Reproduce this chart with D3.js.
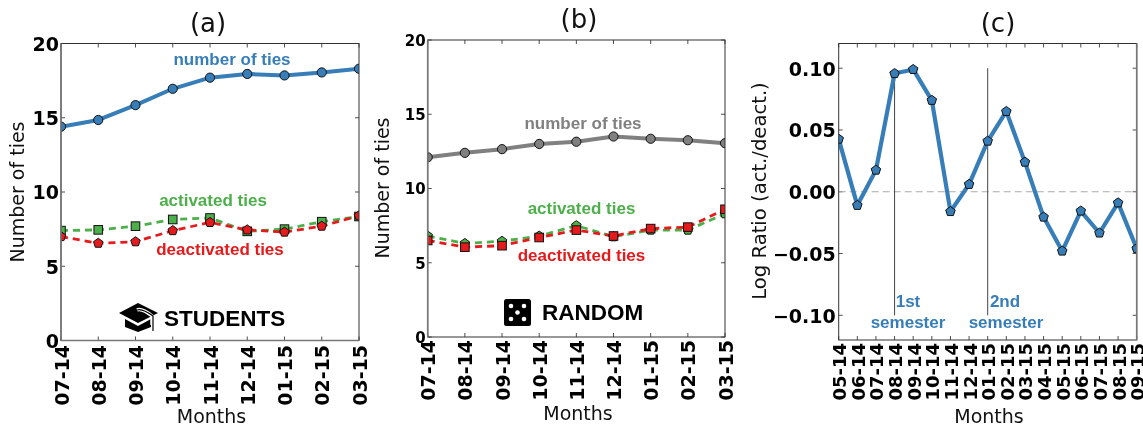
<!DOCTYPE html>
<html><head><meta charset="utf-8">
<script src="https://cdn.jsdelivr.net/npm/d3@7"></script>
<style>html,body{margin:0;padding:0;background:#fff}svg{display:block;filter:blur(0.35px)}</style>
</head><body><svg id="c" width="1143" height="428" font-family="DejaVu Sans"></svg>
<script>
const monthsAB=["07-14","08-14","09-14","10-14","11-14","12-14","01-15","02-15","03-15"];
const monthsC=["05-14","06-14","07-14","08-14","09-14","10-14","11-14","12-14","01-15","02-15","03-15","04-15","05-15","06-15","07-15","08-15","09-15"];
const aTies=[14.4,14.85,15.85,16.95,17.7,17.95,17.85,18.05,18.3];
const aActivated=[7.4,7.45,7.7,8.15,8.25,7.35,7.5,8.0,8.35];
const aDeactivated=[7.0,6.55,6.65,7.4,7.95,7.45,7.3,7.7,8.4];
const bTies=[12.1,12.4,12.65,13.0,13.15,13.5,13.35,13.25,13.05];
const bActivated=[6.8,6.3,6.45,6.8,7.5,6.75,7.2,7.2,8.3];
const bDeactivated=[6.5,6.05,6.15,6.7,7.2,6.8,7.3,7.4,8.6];
const logRatio=[0.0426,-0.011,0.0175,0.0957,0.099,0.074,-0.016,0.006,0.041,0.065,0.024,-0.0205,-0.048,-0.0156,-0.0334,-0.009,-0.046];
const yTicksAB=[0,5,10,15,20];
const yTicksC=[-0.10,-0.05,0,0.05,0.10];
const semesters=[{m:"08-14",top:0.0957},{m:"01-15",top:0.10}];
const BLUE="#377eb8",GREEN="#4daf4a",RED="#e41a1c",GRAY="#808080";
const svg=d3.select("#c");
let uid=0;
function pentagon(r){return d3.range(5).map(i=>{const a=-Math.PI/2+i*2*Math.PI/5;return [r*Math.cos(a),r*Math.sin(a)]})}
function marker(g,kind,x,y,fill){
  const common=s=>s.attr("fill",fill).attr("stroke","#111").attr("stroke-width",1);
  if(kind==="o")common(g.append("circle").attr("cx",x).attr("cy",y).attr("r",4.6));
  if(kind==="s")common(g.append("rect").attr("x",x-4.3).attr("y",y-4.3).attr("width",8.6).attr("height",8.6));
  if(kind==="p")common(g.append("polygon").attr("points",pentagon(5).map(p=>[p[0]+x,p[1]+y].join(",")).join(" ")));
}
function panel(o){
  const id="clip"+(uid++);
  const x=d3.scalePoint().domain(o.cats).range([o.l,o.r]);
  const y=d3.scaleLinear().domain(o.dom).range([o.b,o.t]);
  svg.append("clipPath").attr("id",id).append("rect").attr("x",o.l).attr("y",o.t).attr("width",o.r-o.l).attr("height",o.b-o.t);
  const g=svg.append("g");
  const axB=d3.axisBottom(x).tickSize(0).tickPadding(0);
  const axGrp=g.append("g").attr("transform",`translate(0,${o.b})`).call(axB);
  axGrp.select(".domain").remove();
  axGrp.selectAll("text").attr("text-anchor","end").attr("font-size",o.xfs).attr("font-weight","bold").attr("fill","#000")
    .attr("font-family","DejaVu Sans").attr("dy",null).attr("y",null)
    .attr("transform",`translate(${o.xdx},${o.xdy}) rotate(-90)`);
  const axL=d3.axisLeft(y).tickValues(o.yt).tickSize(0).tickPadding(0).tickFormat(o.fmt);
  const lg=g.append("g").attr("transform",`translate(${o.l},0)`).call(axL);
  lg.select(".domain").remove();
  lg.selectAll("text").attr("font-size",o.yfs).attr("font-weight","bold").attr("fill","#000").attr("font-family","DejaVu Sans").attr("x",-o.ypad).attr("dy","0.36em");
  const tk=g.append("g").attr("stroke","#222").attr("stroke-width",0.8);
  o.cats.forEach(c=>{[[o.b,o.b-4],[o.t,o.t+4]].forEach(p=>tk.append("line").attr("x1",x(c)).attr("x2",x(c)).attr("y1",p[0]).attr("y2",p[1]))});
  o.yt.forEach(v=>{[[o.l,o.l+4],[o.r,o.r-4]].forEach(p=>tk.append("line").attr("y1",y(v)).attr("y2",y(v)).attr("x1",p[0]).attr("x2",p[1]))});
  const plot=g.append("g").attr("clip-path",`url(#${id})`);
  if(o.under)o.under(plot,x,y);
  const ln=d3.line().x((d,i)=>x(o.cats[i])).y(d=>y(d));
  o.series.forEach(s=>{
    plot.append("path").attr("d",ln(s.v)).attr("fill","none").attr("stroke",s.c).attr("stroke-width",s.w)
      .attr("stroke-dasharray",s.dash||null).attr("stroke-linejoin","round");
  });
  o.series.forEach(s=>s.v.forEach((v,i)=>marker(plot,s.m,x(o.cats[i]),y(v),s.c)));
  g.append("rect").attr("x",o.l).attr("y",o.t).attr("width",o.r-o.l).attr("height",o.b-o.t).attr("fill","none").attr("stroke","#333").attr("stroke-width",1);
  const sp={left:[o.l,o.t,o.l,o.b],bottom:[o.l,o.b,o.r,o.b],right:[o.r,o.t,o.r,o.b]};
  o.graySpines.forEach(k=>{const s=sp[k];g.append("line").attr("x1",s[0]).attr("y1",s[1]).attr("x2",s[2]).attr("y2",s[3]).attr("stroke","#777").attr("stroke-width",1.6)});
  g.append("text").attr("x",o.titleX).attr("y",o.t-12).attr("text-anchor","middle").attr("font-size",26).attr("fill","#111").text(o.title);
  g.append("text").attr("x",o.xlX).attr("y",o.xlY).attr("text-anchor","middle").attr("font-size",19).attr("fill","#111").text("Months");
  g.append("text").attr("transform",`translate(${o.ylX},${o.ylY}) rotate(-90)`).attr("text-anchor","middle").attr("font-size",o.ylfs||19).attr("fill","#111").text(o.ylabel);
  return {g,x,y};
}
function label(g,xp,yp,t,c,fs){g.append("text").attr("x",xp).attr("y",yp).attr("text-anchor","middle").attr("font-family","Liberation Sans").attr("font-weight","bold").attr("font-size",fs||17).attr("fill",c).text(t);}
const fa=d=>d3.format("d")(d);
const A=panel({cats:monthsAB,dom:[0,20],yt:yTicksAB,fmt:fa,l:61,r:359,t:43.5,b:340.5,xfs:19,yfs:19,ypad:2,xdx:7,xdy:4.5,xlX:211.5,xlY:423,graySpines:["left","bottom"],
  title:"(a)",titleX:208,ylabel:"Number of ties",ylX:24,ylY:192,
  series:[{v:aActivated,c:GREEN,w:2.8,dash:"7,5",m:"s"},{v:aDeactivated,c:RED,w:2.8,dash:"7,5",m:"p"},{v:aTies,c:BLUE,w:4,m:"o"}]});
label(A.g,232,64.5,"number of ties",BLUE);label(A.g,213,206,"activated ties",GREEN);label(A.g,220,254.5,"deactivated ties",RED);
const B=panel({cats:monthsAB,dom:[0,20],yt:yTicksAB,fmt:fa,l:427.7,r:725,t:40,b:337,xfs:19,yfs:15,ypad:2,xdx:7,xdy:3,xlX:578,xlY:420,graySpines:["left"],
  title:"(b)",titleX:579,ylabel:"Number of ties",ylX:389,ylY:188,
  series:[{v:bActivated,c:GREEN,w:2.8,dash:"7,5",m:"p"},{v:bDeactivated,c:RED,w:2.8,dash:"7,5",m:"s"},{v:bTies,c:GRAY,w:4,m:"o"}]});
label(B.g,583,129,"number of ties",GRAY);label(B.g,581.5,214,"activated ties",GREEN);label(B.g,581.5,261,"deactivated ties",RED);
const C=panel({cats:monthsC,dom:[-0.12,0.12],yt:yTicksC,fmt:d3.format(".2f"),l:838.7,r:1136.7,t:43.5,b:340,xfs:18,yfs:19,ypad:3,xdx:7,xdy:3,xlX:989,xlY:423,graySpines:["right"],
  title:"(c)",titleX:998,ylabel:"Log Ratio (act./deact.)",ylX:766,ylY:191,ylfs:19.6,
  under:(p,x,y)=>{
    p.append("line").attr("x1",838.7).attr("x2",1136.7).attr("y1",y(0)).attr("y2",y(0)).attr("stroke","#aaa").attr("stroke-width",1.2).attr("stroke-dasharray","7,4");
    semesters.forEach(s=>p.append("line").attr("x1",x(s.m)).attr("x2",x(s.m)).attr("y1",y(s.top)).attr("y2",y(-0.10)).attr("stroke","#444").attr("stroke-width",1));
  },
  series:[{v:logRatio,c:BLUE,w:4.2,m:"p"}]});
label(C.g,908,307,"1st",BLUE,17);label(C.g,908,328,"semester",BLUE,17);label(C.g,1005,307,"2nd",BLUE,17);label(C.g,1006,328,"semester",BLUE,17);
const bs=svg.append("g");
bs.append("path").attr("d","M138 303 L158 313 L138 323 L119 313 Z").attr("fill","#000");
bs.append("path").attr("d","M125 319 L138 326 L151 319 L151 327 L138 332 L125 327 Z").attr("fill","#000");
bs.append("path").attr("d","M137 310 Q142 308 152 316 L152 325").attr("fill","none").attr("stroke","#fff").attr("stroke-width",3.5);
bs.append("path").attr("d","M137 310 Q142 308 153 316 L153 331").attr("fill","none").attr("stroke","#000").attr("stroke-width",1.2);
bs.append("text").attr("x",164).attr("y",326).attr("font-family","Liberation Sans").attr("font-weight","bold").attr("font-size",22.5).attr("fill","#000").text("STUDENTS");
const br=svg.append("g");
br.append("rect").attr("x",504).attr("y",299).attr("width",27).attr("height",27).attr("rx",2.5).attr("fill","#000");
[[511,306],[524,306],[517.5,312.5],[511,319],[524,319]].forEach(p=>br.append("circle").attr("cx",p[0]).attr("cy",p[1]).attr("r",2.3).attr("fill","#fff"));
br.append("text").attr("x",542).attr("y",320).attr("font-family","Liberation Sans").attr("font-weight","bold").attr("font-size",22.5).attr("fill","#000").text("RANDOM");
</script></body></html>
